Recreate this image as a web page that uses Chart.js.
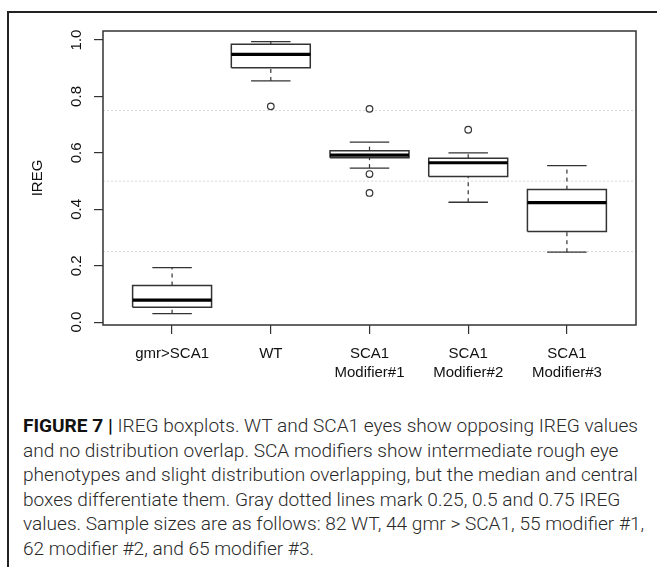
<!DOCTYPE html>
<html>
<head>
<meta charset="utf-8">
<script src="https://cdn.jsdelivr.net/npm/chart.js@4.4.0/dist/chart.umd.min.js"></script>
<style>
  html, body { margin: 0; padding: 0; background: #fff; }
  body { width: 657px; height: 567px; position: relative; overflow: hidden; }
  #frame { position: absolute; left: 7px; top: 11px; width: 700px; height: 600px;
           border-top: 2px solid #222; border-left: 2px solid #222; }
  #chartBox { position: absolute; left: 0; top: 0; width: 657px; height: 400px; }
  #caption { position: absolute; left: 23px; top: 414px; white-space: nowrap;
             font-family: Roboto, 'Liberation Sans', sans-serif; font-weight: 300;
             font-size: 18.5px; line-height: 24.6px; color: #2a2a2a; transform-origin: 0 0; }
  #caption b { font-weight: 700; color: #111; }
</style>
</head>
<body>
<div id="frame"></div>
<div id="chartBox"><canvas id="iregChart" width="657" height="400"></canvas></div>
<div id="caption">
  <div class="ln"><b>FIGURE 7 |</b> IREG boxplots. WT and SCA1 eyes show opposing IREG values</div>
  <div class="ln">and no distribution overlap. SCA modifiers show intermediate rough eye</div>
  <div class="ln">phenotypes and slight distribution overlapping, but the median and central</div>
  <div class="ln">boxes differentiate them. Gray dotted lines mark 0.25, 0.5 and 0.75 IREG</div>
  <div class="ln">values. Sample sizes are as follows: 82 WT, 44 gmr &gt; SCA1, 55 modifier #1,</div>
  <div class="ln">62 modifier #2, and 65 modifier #3.</div>
</div>

<script>
// boxplot values (IREG)
const categories = [['gmr>SCA1'], ['WT'], ['SCA1', 'Modifier#1'], ['SCA1', 'Modifier#2'], ['SCA1', 'Modifier#3']];
const whiskerLow  = [0.030, 0.855, 0.546, 0.425, 0.248];
const q1          = [0.053, 0.902, 0.583, 0.516, 0.321];
const median      = [0.078, 0.949, 0.592, 0.565, 0.424];
const q3          = [0.130, 0.985, 0.608, 0.581, 0.470];
const whiskerHigh = [0.193, 0.994, 0.638, 0.600, 0.555];
const outliers    = [[], [0.765], [0.756, 0.525, 0.458], [0.682], []];
const yTicks = [0, 0.2, 0.4, 0.6, 0.8, 1.0];
const refLines = [0.25, 0.5, 0.75];

const xMin = 0.3, xMax = 5.7;
const yMin = -0.01, yMax = 1.032;
const boxHalf = 0.4, capHalf = 0.2;

const ink = '#333';
const tickFont = { family: "'Liberation Sans', Arial, sans-serif", size: 15, lineHeight: 1.27 };

const datasets = [];

// gray dotted reference lines
refLines.forEach(v => {
  datasets.push({
    data: [{ x: xMin, y: v }, { x: xMax, y: v }],
    showLine: true, borderColor: '#d6d6d6', borderWidth: 1, borderDash: [2, 2],
    pointRadius: 0, order: 10
  });
});

categories.forEach((c, i) => {
  const pos = i + 1;
  const solid = { showLine: true, borderColor: ink, borderWidth: 1.3, pointRadius: 0, order: 2 };
  const dashed = { showLine: true, borderColor: ink, borderWidth: 1.2, borderDash: [4, 4], pointRadius: 0, order: 3 };

  // whiskers
  datasets.push({ ...dashed, data: [{ x: pos, y: whiskerLow[i] }, { x: pos, y: q1[i] }] });
  datasets.push({ ...dashed, data: [{ x: pos, y: q3[i] }, { x: pos, y: whiskerHigh[i] }] });
  // caps
  datasets.push({ ...solid, data: [{ x: pos - capHalf, y: whiskerLow[i] }, { x: pos + capHalf, y: whiskerLow[i] }] });
  datasets.push({ ...solid, data: [{ x: pos - capHalf, y: whiskerHigh[i] }, { x: pos + capHalf, y: whiskerHigh[i] }] });
  // box
  datasets.push({ ...solid, borderWidth: 1.5, data: [
    { x: pos - boxHalf, y: q1[i] }, { x: pos + boxHalf, y: q1[i] },
    { x: pos + boxHalf, y: q3[i] }, { x: pos - boxHalf, y: q3[i] },
    { x: pos - boxHalf, y: q1[i] }
  ] });
  // median
  datasets.push({ ...solid, borderColor: '#000', borderWidth: 3.2, order: 1,
    data: [{ x: pos - boxHalf, y: median[i] }, { x: pos + boxHalf, y: median[i] }] });
  // outliers
  if (outliers[i].length) {
    datasets.push({
      data: outliers[i].map(v => ({ x: pos, y: v })),
      showLine: false, pointRadius: 3.3, pointBorderWidth: 1.2,
      pointBorderColor: ink, pointBackgroundColor: '#fff', order: 0
    });
  }
});

const plotBox = {
  id: 'plotBox',
  afterDatasetsDraw(chart) {
    const { ctx, chartArea: a } = chart;
    ctx.save();
    ctx.strokeStyle = ink;
    ctx.lineWidth = 1.5;
    ctx.strokeRect(a.left, a.top, a.right - a.left, a.bottom - a.top);
    ctx.restore();
  }
};

const axisGrid = { display: true, drawOnChartArea: false, drawTicks: true, tickLength: 9, color: ink, lineWidth: 1.2 };

new Chart(document.getElementById('iregChart').getContext('2d'), {
  type: 'scatter',
  data: { datasets },
  options: {
    responsive: false,
    animation: false,
    layout: { padding: { top: 31, right: 21, left: 0, bottom: 0 } },
    plugins: { legend: { display: false }, tooltip: { enabled: false } },
    scales: {
      x: {
        type: 'linear', min: xMin, max: xMax,
        afterBuildTicks: s => { s.ticks = categories.map((c, i) => ({ value: i + 1 })); },
        afterFit: s => { s.height = 75; },
        grid: axisGrid,
        border: { display: false },
        ticks: {
          autoSkip: false, maxRotation: 0, minRotation: 0, padding: 10,
          color: '#111', font: tickFont,
          callback: v => categories[v - 1]
        }
      },
      y: {
        type: 'linear', min: yMin, max: yMax,
        afterBuildTicks: s => { s.ticks = yTicks.map(v => ({ value: v })); },
        afterFit: s => { s.width = 103; },
        grid: axisGrid,
        border: { display: false },
        ticks: {
          minRotation: 90, maxRotation: 90, crossAlign: 'center', padding: 7,
          color: '#111', font: tickFont,
          callback: v => v.toFixed(1)
        },
        title: {
          display: true, text: 'IREG', color: '#111', font: tickFont,
          padding: { top: 28, bottom: 0 }
        }
      }
    }
  },
  plugins: [plotBox]
});

// fit the caption width to the original column
const cap = document.getElementById('caption');
const first = cap.querySelector('.ln');
const range = document.createRange();
range.selectNodeContents(first);
const w = range.getBoundingClientRect().width;
cap.style.transform = 'scaleX(' + (615 / w) + ')';
</script>
</body>
</html>
